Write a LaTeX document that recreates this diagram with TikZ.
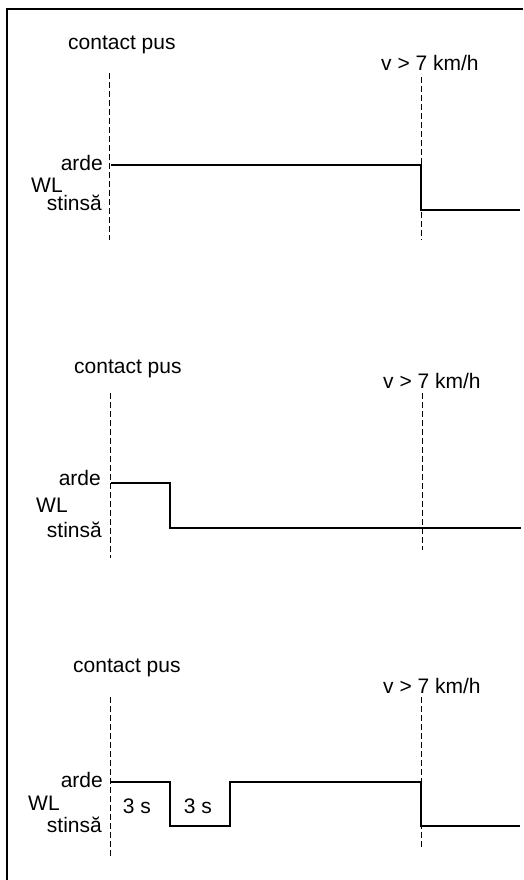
\documentclass[tikz,border=0pt]{standalone}
\usepackage{fontspec}
\setmainfont{Liberation Sans}
\usepackage{tikz}
\usetikzlibrary{positioning}

\begin{document}
\begin{tikzpicture}[x=1pt,y=-1pt,every node/.style={font=\fontsize{21}{24}\selectfont,inner sep=0pt},
    lbl/.style={anchor=base west},
    lvl/.style={anchor=base east},
    marker/.style={line width=1pt,dash pattern=on 6pt off 3pt},
    signal/.style={line width=2pt,line join=miter}]
    \useasboundingbox (0,0) rectangle (523,880);
    % frame
    \draw[line width=2pt] (523,9) -- (7,9) -- (7,880);
    % --- top: lamp stays on until v > 7 km/h
    \node[lbl] (on1) at (68,50) {contact pus};
    \node[lbl] (v1) at (381,71) {v > 7 km/h};
    \node[lvl] (hi1) at (103,170) {arde};
    \node[lbl] (wl1) at (31,192) {WL};
    \node[lvl] (lo1) at (102,210) {stinsă};
    \coordinate (t1a) at (109,73);  \coordinate (b1a) at (109,240);
    \coordinate (t1b) at (421,77);  \coordinate (b1b) at (421,240);
    \draw[marker] (t1a) -- (b1a);
    \draw[marker] (t1b) -- (b1b);
    \draw[signal] (111,165) -- (421,165) -- (421,210) -- (520,210);
    % --- middle: short pulse after contact
    \node[lbl] (on2) at (74,373) {contact pus};
    \node[lbl] (v2) at (383,388) {v > 7 km/h};
    \node[lvl] (hi2) at (101,485) {arde};
    \node[lbl] (wl2) at (36,512) {WL};
    \node[lvl] (lo2) at (102,537) {stinsă};
    \coordinate (t2a) at (110,393); \coordinate (b2a) at (110,558);
    \coordinate (t2b) at (422,393); \coordinate (b2b) at (422,550);
    \draw[marker] (t2a) -- (b2a);
    \draw[marker] (t2b) -- (b2b);
    \draw[signal] (111,483) -- (170,483) -- (170,528) -- (521,528);
    % --- bottom: 3 s on, 3 s off, on again until v > 7 km/h
    \node[lbl] (on3) at (73,672) {contact pus};
    \node[lbl] (v3) at (383,693) {v > 7 km/h};
    \node[lvl] (hi3) at (103,787) {arde};
    \node[lbl] (wl3) at (28,810) {WL};
    \node[lvl] (lo3) at (102,832) {stinsă};
    \node (d1) at (137,806) {3 s};
    \node (d2) at (198,806) {3 s};
    \coordinate (t3a) at (110,697); \coordinate (b3a) at (110,857);
    \coordinate (t3b) at (421,697); \coordinate (b3b) at (421,848);
    \draw[marker] (t3a) -- (b3a);
    \draw[marker] (t3b) -- (b3b);
    \draw[signal] (111,782) -- (170,782) -- (170,826) -- (230,826) -- (230,782)
      -- (421,782) -- (421,826) -- (520,826);
\end{tikzpicture}
\end{document}
